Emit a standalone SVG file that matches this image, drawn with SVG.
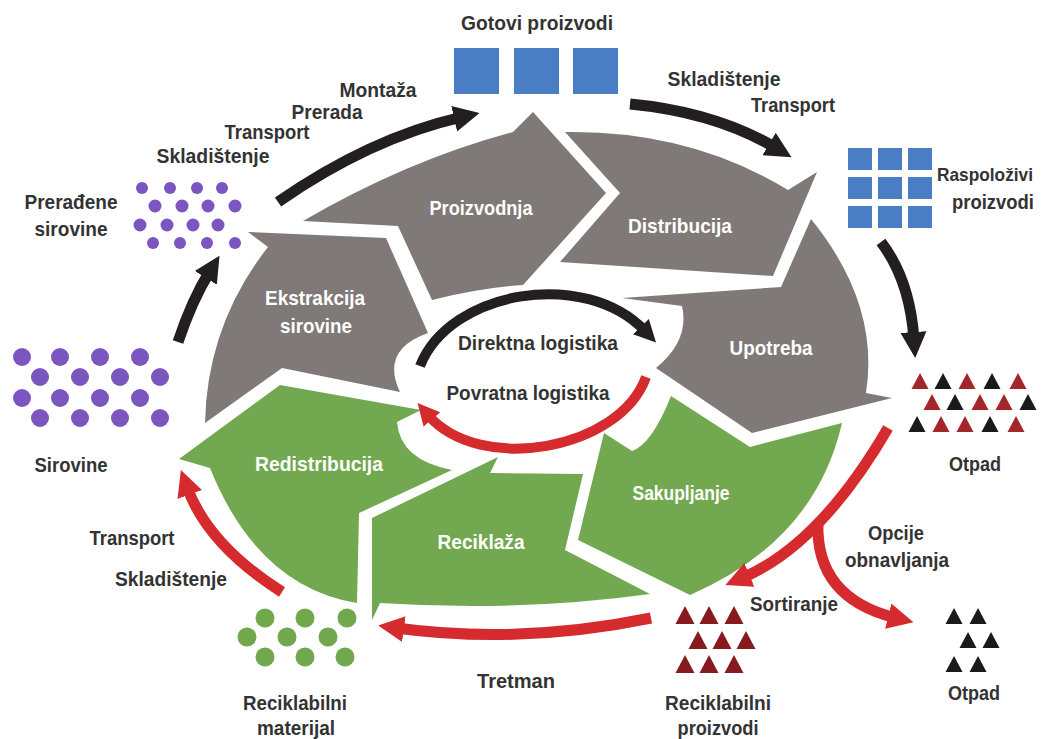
<svg xmlns="http://www.w3.org/2000/svg" xmlns:xlink="http://www.w3.org/1999/xlink" width="1048" height="739" viewBox="0 0 1048 739">
<style>
.bg{fill:#fff}
.sg{fill:#7f7a77}
.sn{fill:#72a84f}
.t{font-family:"Liberation Sans",Arial,sans-serif;font-weight:bold;font-size:21px;fill:#333;text-anchor:middle}
.w{fill:#fff}
.blk{fill:none;stroke:#231f20;stroke-width:11}
.red{fill:none;stroke:#d52b2e;stroke-width:11}
.sq{fill:#4a7dc3}
.pd{fill:#7b56c0}
.gd{fill:#71a84d}
.tr{fill:#a3262a}
.tdr{fill:#861a1e}
.tb{fill:#1a1a1a}
</style>
<defs>
<marker id="hb" markerUnits="userSpaceOnUse" markerWidth="26" markerHeight="28" viewBox="0 0 26 28" refX="8" refY="14" orient="auto"><path d="M0,1 L26,14 L0,27 Z" fill="#231f20"/></marker>
<marker id="hr" markerUnits="userSpaceOnUse" markerWidth="26" markerHeight="28" viewBox="0 0 26 28" refX="8" refY="14" orient="auto"><path d="M0,1 L26,14 L0,27 Z" fill="#d52b2e"/></marker>
<marker id="hbs" markerUnits="userSpaceOnUse" markerWidth="22" markerHeight="24" viewBox="0 0 22 24" refX="6" refY="12" orient="auto"><path d="M0,1 L22,12 L0,23 Z" fill="#231f20"/></marker>
<marker id="hrs" markerUnits="userSpaceOnUse" markerWidth="22" markerHeight="24" viewBox="0 0 22 24" refX="6" refY="12" orient="auto"><path d="M0,1 L22,12 L0,23 Z" fill="#d52b2e"/></marker>
<path id="tri" d="M0,-8 L8.5,8 L-8.5,8 Z"/>
<path id="tri2" d="M0,-9 L9.5,9 L-9.5,9 Z"/>
</defs>
<rect class="bg" x="0" y="0" width="1048" height="739"/>

<g id="ekstrakcija">
<path class="sg" d="M268,247 L248,232 L386,238 L428,333 Q380,350 400,392 L282,368 L205,423 Q207,325 268,247 Z"/>
<text class="t w" x="315" y="305" textLength="100" lengthAdjust="spacingAndGlyphs">Ekstrakcija</text>
<text class="t w" x="316" y="333" textLength="72" lengthAdjust="spacingAndGlyphs">sirovine</text>
</g>
<g id="proizvodnja">
<path class="sg" d="M303,221 Q408,160 513,132 L533,112 L606,193 L523,285 Q480,288 432,300 L398,226 Z"/>
<text class="t w" x="481" y="215" textLength="103" lengthAdjust="spacingAndGlyphs">Proizvodnja</text>
</g>
<g id="distribucija">
<path class="sg" d="M565,132 Q690,130 788,190 L817,172 L773,276 L560,262 L620,193 Z"/>
<text class="t w" x="680" y="233" textLength="104" lengthAdjust="spacingAndGlyphs">Distribucija</text>
</g>
<g id="upotreba">
<path class="sg" d="M622,298 L781,287 L811,219 Q880,304 866,393 L892,398 L752,433 L656,368 Q690,340 682,306 Z"/>
<text class="t w" x="771" y="355" textLength="83" lengthAdjust="spacingAndGlyphs">Upotreba</text>
</g>
<g id="sakupljanje">
<path class="sn" d="M842,423 L750,447 L671,396 Q652,444 632,451 L604,433 L578,540 L690,595 Q815,541 842,423 Z"/>
<text class="t w" x="681" y="500" textLength="97" lengthAdjust="spacingAndGlyphs">Sakupljanje</text>
</g>
<g id="reciklaza">
<path class="sn" d="M650,594 Q520,612 380,603 L372,620 L372,518 L498,457 L490,473 L583,474 L565,550 Z"/>
<text class="t w" x="481" y="549" textLength="87" lengthAdjust="spacingAndGlyphs">Reciklaža</text>
</g>
<g id="redistribucija">
<path class="sn" d="M357,603 Q258,587 210,468 L179,459 L280,385 L421,410 L397,422 Q400,460 452,470 L359,513 Z"/>
<text class="t w" x="319" y="471" textLength="128" lengthAdjust="spacingAndGlyphs">Redistribucija</text>
</g>

<g id="gotovi-proizvodi">
<rect class="sq" x="454" y="48" width="45" height="46"/>
<rect class="sq" x="514" y="48" width="45" height="46"/>
<rect class="sq" x="573" y="48" width="45" height="46"/>
<text class="t" x="537" y="30" textLength="152" lengthAdjust="spacingAndGlyphs">Gotovi proizvodi</text>
</g>
<g id="raspolozivi-proizvodi">
<rect class="sq" x="848" y="148" width="24" height="22"/>
<rect class="sq" x="878" y="148" width="24" height="22"/>
<rect class="sq" x="908" y="148" width="24" height="22"/>
<rect class="sq" x="848" y="177" width="24" height="22"/>
<rect class="sq" x="878" y="177" width="24" height="22"/>
<rect class="sq" x="908" y="177" width="24" height="22"/>
<rect class="sq" x="848" y="206" width="24" height="22"/>
<rect class="sq" x="878" y="206" width="24" height="22"/>
<rect class="sq" x="908" y="206" width="24" height="22"/>
<text class="t" style="font-size:18.5px" x="985" y="181" textLength="96" lengthAdjust="spacingAndGlyphs">Raspoloživi</text>
<text class="t" x="993" y="209" textLength="82" lengthAdjust="spacingAndGlyphs">proizvodi</text>
</g>
<g id="preradjene-sirovine">
<circle class="pd" cx="142" cy="188" r="6"/><circle class="pd" cx="170" cy="188" r="6"/><circle class="pd" cx="197" cy="188" r="6"/><circle class="pd" cx="222" cy="188" r="6"/>
<circle class="pd" cx="155" cy="206" r="6.5"/><circle class="pd" cx="182" cy="206" r="6.5"/><circle class="pd" cx="208" cy="206" r="6.5"/><circle class="pd" cx="235" cy="206" r="6.5"/>
<circle class="pd" cx="140" cy="225" r="6.5"/><circle class="pd" cx="167" cy="225" r="6.5"/><circle class="pd" cx="193" cy="225" r="6.5"/><circle class="pd" cx="218" cy="225" r="6.5"/>
<circle class="pd" cx="153" cy="243" r="6"/><circle class="pd" cx="180" cy="243" r="6"/><circle class="pd" cx="207" cy="243" r="6"/><circle class="pd" cx="235" cy="243" r="6"/>
<text class="t" x="71" y="209" textLength="93" lengthAdjust="spacingAndGlyphs">Prerađene</text>
<text class="t" x="71" y="236" textLength="73" lengthAdjust="spacingAndGlyphs">sirovine</text>
</g>
<g id="sirovine">
<circle class="pd" cx="22" cy="357" r="9"/><circle class="pd" cx="60" cy="357" r="9"/><circle class="pd" cx="100" cy="357" r="9"/><circle class="pd" cx="140" cy="357" r="9"/>
<circle class="pd" cx="40" cy="377" r="9"/><circle class="pd" cx="80" cy="377" r="9"/><circle class="pd" cx="120" cy="377" r="9"/><circle class="pd" cx="160" cy="377" r="9"/>
<circle class="pd" cx="22" cy="398" r="9"/><circle class="pd" cx="60" cy="398" r="9"/><circle class="pd" cx="100" cy="398" r="9"/><circle class="pd" cx="140" cy="398" r="9"/>
<circle class="pd" cx="40" cy="418" r="9"/><circle class="pd" cx="80" cy="418" r="9"/><circle class="pd" cx="120" cy="418" r="9"/><circle class="pd" cx="160" cy="418" r="9"/>
<text class="t" x="71" y="472" textLength="73" lengthAdjust="spacingAndGlyphs">Sirovine</text>
</g>
<g id="reciklabilni-materijal">
<circle class="gd" cx="265" cy="618" r="9.5"/><circle class="gd" cx="305" cy="618" r="9.5"/><circle class="gd" cx="347" cy="618" r="9.5"/>
<circle class="gd" cx="247" cy="637" r="9.5"/><circle class="gd" cx="287" cy="637" r="9.5"/><circle class="gd" cx="328" cy="637" r="9.5"/>
<circle class="gd" cx="265" cy="657" r="9.5"/><circle class="gd" cx="305" cy="657" r="9.5"/><circle class="gd" cx="345" cy="657" r="9.5"/>
<text class="t" x="295" y="710" textLength="104" lengthAdjust="spacingAndGlyphs">Reciklabilni</text>
<text class="t" x="296" y="735" textLength="78" lengthAdjust="spacingAndGlyphs">materijal</text>
</g>
<g id="reciklabilni-proizvodi">
<use href="#tri2" class="tdr" x="685" y="615"/><use href="#tri2" class="tdr" x="709" y="615"/><use href="#tri2" class="tdr" x="734" y="615"/>
<use href="#tri2" class="tdr" x="698" y="640"/><use href="#tri2" class="tdr" x="722" y="640"/><use href="#tri2" class="tdr" x="746" y="640"/>
<use href="#tri2" class="tdr" x="685" y="664"/><use href="#tri2" class="tdr" x="709" y="664"/><use href="#tri2" class="tdr" x="734" y="664"/>
<text class="t" x="718" y="710" textLength="106" lengthAdjust="spacingAndGlyphs">Reciklabilni</text>
<text class="t" x="718" y="735" textLength="81" lengthAdjust="spacingAndGlyphs">proizvodi</text>
</g>
<g id="otpad-gornji">
<use href="#tri" class="tr" x="920" y="381"/><use href="#tri" class="tb" x="943" y="381"/><use href="#tri" class="tr" x="967" y="381"/><use href="#tri" class="tb" x="992" y="381"/><use href="#tri" class="tr" x="1018" y="381"/>
<use href="#tri" class="tr" x="932" y="402"/><use href="#tri" class="tb" x="955" y="402"/><use href="#tri" class="tr" x="980" y="402"/><use href="#tri" class="tr" x="1004" y="402"/><use href="#tri" class="tb" x="1028" y="402"/>
<use href="#tri" class="tb" x="917" y="424"/><use href="#tri" class="tr" x="941" y="424"/><use href="#tri" class="tr" x="965" y="424"/><use href="#tri" class="tb" x="990" y="424"/><use href="#tri" class="tr" x="1016" y="424"/>
<text class="t" x="975" y="471" textLength="52" lengthAdjust="spacingAndGlyphs">Otpad</text>
</g>
<g id="otpad-donji">
<use href="#tri" class="tb" x="954" y="616"/><use href="#tri" class="tb" x="978" y="616"/>
<use href="#tri" class="tb" x="968" y="640"/><use href="#tri" class="tb" x="991" y="640"/>
<use href="#tri" class="tb" x="954" y="664"/><use href="#tri" class="tb" x="978" y="664"/>
<text class="t" x="974" y="700" textLength="52" lengthAdjust="spacingAndGlyphs">Otpad</text>
</g>

<g id="connectors">
<path class="blk" d="M178,342 Q192,300 210,271" marker-end="url(#hb)"/>
<path class="blk" d="M278,202 Q370,138 462,117" marker-end="url(#hb)"/>
<path class="blk" d="M630,104 Q715,112 776,148" marker-end="url(#hb)"/>
<path class="blk" d="M881,242 Q910,280 914,340" marker-end="url(#hb)"/>
<path class="red" d="M888,428 Q820,545 742,578" marker-end="url(#hr)"/>
<path class="red" d="M818,522 Q815,598 896,618" marker-end="url(#hr)"/>
<path class="red" d="M651,618 Q520,645 396,628" marker-end="url(#hr)"/>
<path class="red" d="M282,592 Q208,545 187,487" marker-end="url(#hr)"/>
<path class="blk" style="stroke-width:10" d="M420,366 C450,290 585,268 645,331" marker-end="url(#hbs)"/>
<path class="red" style="stroke-width:10" d="M646,377 C620,450 480,475 428,415" marker-end="url(#hrs)"/>
</g>

<g id="connector-labels">
<text class="t" x="378" y="97" textLength="77" lengthAdjust="spacingAndGlyphs">Montaža</text>
<text class="t" x="327" y="119" textLength="71" lengthAdjust="spacingAndGlyphs">Prerada</text>
<text class="t" x="267" y="139" textLength="85" lengthAdjust="spacingAndGlyphs">Transport</text>
<text class="t" x="213" y="163" textLength="113" lengthAdjust="spacingAndGlyphs">Skladištenje</text>
<text class="t" x="724" y="86" textLength="113" lengthAdjust="spacingAndGlyphs">Skladištenje</text>
<text class="t" x="793" y="112" textLength="84" lengthAdjust="spacingAndGlyphs">Transport</text>
<text class="t" x="896" y="540" textLength="56" lengthAdjust="spacingAndGlyphs">Opcije</text>
<text class="t" x="897" y="567" textLength="104" lengthAdjust="spacingAndGlyphs">obnavljanja</text>
<text class="t" x="794" y="611" textLength="88" lengthAdjust="spacingAndGlyphs">Sortiranje</text>
<text class="t" x="516" y="688" textLength="78" lengthAdjust="spacingAndGlyphs">Tretman</text>
<text class="t" x="132" y="545" textLength="85" lengthAdjust="spacingAndGlyphs">Transport</text>
<text class="t" x="171" y="586" textLength="112" lengthAdjust="spacingAndGlyphs">Skladištenje</text>
<text class="t" x="538" y="350" textLength="160" lengthAdjust="spacingAndGlyphs">Direktna logistika</text>
<text class="t" x="528" y="400" textLength="163" lengthAdjust="spacingAndGlyphs">Povratna logistika</text>
</g>
</svg>
